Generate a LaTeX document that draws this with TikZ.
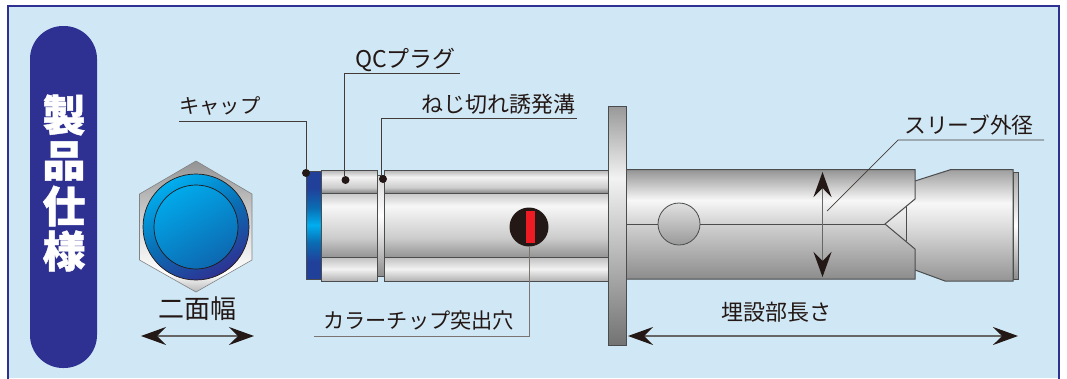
\documentclass[tikz,border=0pt]{standalone}
\usepackage{fontspec}
\usetikzlibrary{arrows.meta}
\newfontfamily\jp{Noto Sans CJK JP}
\newfontfamily\jpheavy{Noto Sans CJK JP}[BoldFeatures={FakeBold=1.0}]
\definecolor{panel}{HTML}{D0E8F5}
\definecolor{navy}{HTML}{2E3192}
\definecolor{ink}{HTML}{231815}
\definecolor{edge}{HTML}{4A4C4E}
\definecolor{skyb}{HTML}{00AEEF}
\definecolor{midb}{HTML}{0A6DB3}
\definecolor{deepb}{HTML}{21409A}
\definecolor{chipred}{HTML}{ED1C24}
\pgfdeclareverticalshading{bartop}{100bp}{color(0bp)=(black!48);color(25bp)=(black!48);color(37bp)=(black!20);color(60bp)=(white!95!black);color(75bp)=(black!30);color(100bp)=(black!30)}
\pgfdeclareverticalshading{barmid}{100bp}{color(0bp)=(black!42);color(25bp)=(black!42);color(40bp)=(black!20);color(65bp)=(white!97!black);color(75bp)=(black!22);color(100bp)=(black!22)}
\pgfdeclareverticalshading{barbot}{100bp}{color(0bp)=(black!30);color(25bp)=(black!30);color(50bp)=(white!95!black);color(75bp)=(black!25);color(100bp)=(black!25)}
\pgfdeclareverticalshading{groove}{100bp}{color(0bp)=(black!45);color(25bp)=(black!45);color(45bp)=(black!12);color(55bp)=(white);color(75bp)=(black!15);color(100bp)=(black!15)}
\pgfdeclareverticalshading{capblue}{100bp}{color(0bp)=(deepb);color(25bp)=(deepb);color(33bp)=(deepb);color(42bp)=(midb);color(50bp)=(skyb);color(58bp)=(midb);color(67bp)=(deepb);color(75bp)=(deepb);color(100bp)=(deepb)}
\pgfdeclareverticalshading{flange}{100bp}{color(0bp)=(black!55);color(25bp)=(black!55);color(60bp)=(white!95!black);color(75bp)=(black!40);color(100bp)=(black!40)}
\pgfdeclareverticalshading{sleevebody}{100bp}{color(0bp)=(black!45);color(25bp)=(black!45);color(50bp)=(black!18);color(61bp)=(white!97!black);color(75bp)=(black!42);color(100bp)=(black!42)}
\pgfdeclareverticalshading{nose}{100bp}{color(0bp)=(black!42);color(25bp)=(black!42);color(50bp)=(black!13);color(60bp)=(white!97!black);color(75bp)=(black!38);color(100bp)=(black!38)}
\pgfdeclareverticalshading{hexbg}{100bp}{color(0bp)=(black!28);color(25bp)=(black!28);color(32bp)=(white);color(50bp)=(black!15);color(75bp)=(black!42);color(100bp)=(black!42)}
\tikzset{
  x=1pt,y=-1pt,
  lbl/.style={font=\jp\fontsize{21.5}{24}\selectfont,text=ink,inner sep=0pt},
  leader/.style={draw=ink!85,line width=.9pt},
  dotmark/.style={circle,fill=ink,inner sep=0pt,minimum size=8pt},
  dimline/.style={draw=black!60,line width=1.5pt,{Stealth[length=25pt,width=18pt,inset=9pt,color=ink]}-{Stealth[length=25pt,width=18pt,inset=9pt,color=ink]}},
  part/.style={draw=edge,line width=1pt},
}
\begin{document}
\begin{tikzpicture}
\useasboundingbox (0,0) rectangle (1067,378);
\fill[white] (0,0) rectangle (1067,378);
\fill[panel] (8,6) rectangle (1059,378);
\draw[navy,line width=2.4pt] (8,379) -- (8,6) -- (1059,6) -- (1059,379);
% title pill
\fill[navy,rounded corners=33pt] (30,26) rectangle (97,368);
\foreach \c/\yy in {製/115,品/161,仕/206,様/251}{
  \node[text=white,font=\jpheavy\bfseries\fontsize{43}{46}\selectfont,inner sep=0pt] at (64,\yy) {\c};
}
% hexagon end view
\path[shading=hexbg,draw=edge!70,line width=.6pt] (196,161) -- (252,194) -- (252,260) -- (196,292) -- (139.5,260) -- (139.5,194) -- cycle;
\path[top color=skyb,bottom color=navy,middle color=midb,shading angle=30,draw=ink,line width=.7pt] (196,227) circle (53);
\path[top color=skyb!92!midb,bottom color=midb!92!navy,shading angle=30,draw=ink,line width=.7pt] (196,227) circle (42);
% cap and plug
\path[shading=capblue,draw=edge,line width=.8pt] (306,171) rectangle (321,279);
\path[shading=groove,draw=edge,line width=.6pt] (377,175) rectangle (384,276);
\path[shading=bartop,part] (321,170) rectangle (377,193);
\path[shading=barmid,part] (321,193) rectangle (377,257);
\path[shading=barbot,part] (321,257) rectangle (377,281);
% threaded body
\path[shading=bartop,part] (384,170) rectangle (609,193);
\path[shading=barmid,part] (384,193) rectangle (609,257);
\path[shading=barbot,part] (384,257) rectangle (609,281);
% nose + sleeve
\path[top color=black!35,bottom color=black!45,middle color=white,draw=edge,line width=.8pt] (1013,172) rectangle (1018,279);
\path[shading=nose,part] (880,181) -- (915,181) -- (951,169.5) -- (1013,169.5) -- (1013,281) -- (945,281) -- (915,270) -- (880,270) -- cycle;
\draw[edge,line width=.8pt] (906,207) -- (906,241);
\path[shading=sleevebody,part] (626,169.5) -- (915,169.5) -- (915,199) -- (885,224) -- (915,249) -- (915,279) -- (626,279) -- cycle;
\draw[edge,line width=1pt] (626,224) -- (885,224);
\path[top color=black!12,bottom color=black!40,draw=edge,line width=.8pt] (679,224) circle (21);
% flange
\path[shading=flange,part] (608.5,106.5) rectangle (626.5,345);
% labels
\node[lbl,anchor=west,font=\jp\fontsize{20.3}{24}\selectfont] (tcap) at (179,106) {キャップ};
\node[lbl,anchor=west,font=\jp\fontsize{23}{24}\selectfont] (tqc) at (355,60) {QCプラグ};
\node[lbl,anchor=west,font=\jp\fontsize{22}{24}\selectfont] (tgr) at (421,104) {ねじ切れ誘発溝};
\node[lbl,anchor=center,font=\jp\fontsize{26}{28}\selectfont] (thex) at (197,309) {二面幅};
\node[lbl,anchor=west,font=\jp\fontsize{21.2}{24}\selectfont] (tchip) at (323,320) {カラーチップ突出穴};
\node[lbl,anchor=center,font=\jp\fontsize{22}{24}\selectfont] (tlen) at (776,312) {埋設部長さ};
\node[lbl,anchor=west,font=\jp\fontsize{21.8}{24}\selectfont] (tdia) at (904,125) {スリーブ外径};
% dots
\node[dotmark] (dcap) at (306,173) {};
\node[dotmark] (dqc) at (345.5,180) {};
\node[dotmark] (dgr) at (383,179) {};
% colour chip
\node[circle,fill=ink,minimum size=39pt,inner sep=0pt] (chip) at (529,227) {};
% leaders
\coordinate (lcap) at (179,121);
\coordinate (lqc) at (460,73.5);
\coordinate (lgr) at (577,118);
\coordinate (lchip) at (314,336);
\coordinate (ldia) at (1044,140);
\coordinate (tipdia) at (827,211);
\draw[leader] (lcap) -| (dcap);
\draw[leader] (lqc) -- (344.5,73.5) -- (344.5,176);
\draw[leader] (lgr) -- (381.5,118) -- (381.5,176);
\draw[leader,draw=ink!60] (lchip) -| (chip);
\draw[leader,line width=.7pt] (ldia) -- (898,140) -- (tipdia);
\fill[chipred] (526,211) rectangle (535,243);
% dimension arrows
\coordinate (a1) at (141,336); \coordinate (a2) at (254,336);
\coordinate (b1) at (628,336); \coordinate (b2) at (1018,336);
\coordinate (c1) at (822.5,172); \coordinate (c2) at (822.5,277);
\draw[dimline] (a1) -- (a2);
\draw[dimline] (b1) -- (b2);
\draw[dimline] (c1) -- (c2);
\end{tikzpicture}
\end{document}
